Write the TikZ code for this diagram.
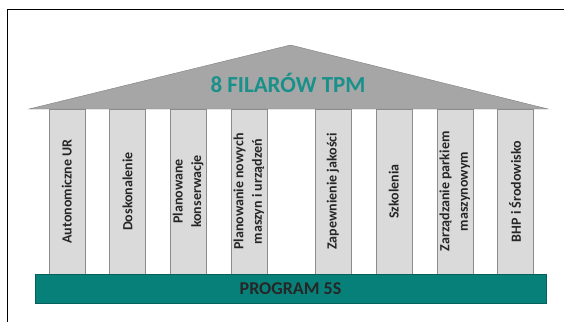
\documentclass[tikz,border=0pt]{standalone}
\usepackage{fontspec}
\setmainfont{Carlito}
\usepackage{tikz}
\usetikzlibrary{positioning}
\definecolor{rooffill}{HTML}{A6A6A6}
\definecolor{roofline}{HTML}{808080}
\definecolor{pillarfill}{HTML}{DADADA}
\definecolor{pillarline}{HTML}{8C8C8C}
\definecolor{basefill}{HTML}{08807A}
\definecolor{baseline}{HTML}{06605C}
\definecolor{titleteal}{HTML}{1A908A}
\tikzset{pillar/.style = {draw = pillarline, fill = pillarfill, rotate = 90,
                          minimum width = 165, minimum height = 36, inner sep = 0,
                          align = center, text = black!85,
                          font = \fontsize{14}{18.5}\selectfont\bfseries}}
\tikzset{base/.style = {draw = baseline, fill = basefill, minimum width = 511,
                        minimum height = 29, inner sep = 0, text = black!85,
                        font = \fontsize{18}{20}\selectfont\bfseries}}
\tikzset{roof/.style = {draw = roofline, fill = rooffill, line join = miter}}

\begin{document}
\begin{tikzpicture}[x = 1pt, y = -1pt]
      \useasboundingbox (0, 0) rectangle (564, 322);
      \draw [line width = 0.9] (7.5, 322) coordinate (fl) -- (7.5, 9.5) coordinate (fc) -- (564, 9.5) coordinate (fr);

      \draw [roof] (29, 109) coordinate (rl) -- (290.5, 45) coordinate (rt) -- (548, 109) coordinate (rr) -- cycle;
      \node [text = titleteal, font = \fontsize{23}{26}\selectfont\bfseries] (title) at (288, 82.5) {8 FILARÓW TPM};

      \node [pillar] (p1) at (66.8, 191.5) {Autonomiczne UR};
      \node [pillar] (p2) at (127.5, 191.5) {Doskonalenie};
      \node [pillar] (p3) at (188.1, 191.5) {Planowane\\konserwacje};
      \node [pillar] (p4) at (248.8, 191.5) {Planowanie nowych\\maszyn i urządzeń};
      \node [pillar] (p5) at (333, 191.5) {Zapewnienie jakości};
      \node [pillar] (p6) at (393.8, 191.5) {Szkolenia};
      \node [pillar] (p7) at (454.8, 191.5) {Zarządzanie parkiem\\maszynowym};
      \node [pillar] (p8) at (515, 191.5) {BHP i Środowisko};

      \node [base] (base) at (290.5, 288.5) {PROGRAM 5S};
    \end{tikzpicture}
\end{document}
